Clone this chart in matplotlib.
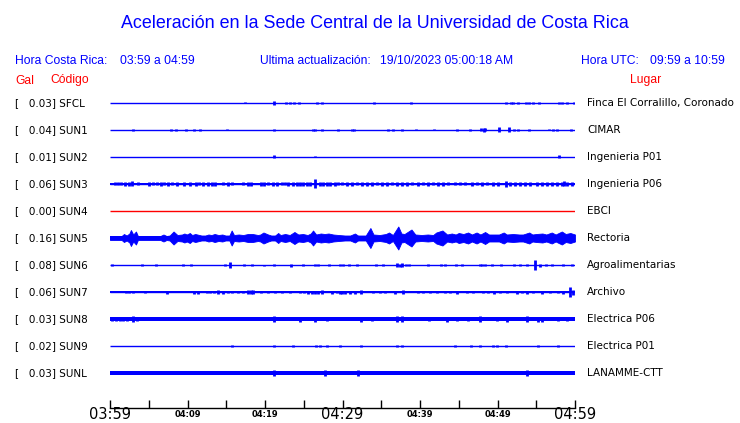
import numpy as np
import matplotlib.pyplot as plt
import matplotlib.transforms as mtransforms

# estaciones (de arriba hacia abajo)
codigos = ['SFCL', 'SUN1', 'SUN2', 'SUN3', 'SUN4', 'SUN5', 'SUN6', 'SUN7', 'SUN8', 'SUN9', 'SUNL']
gal = [0.03, 0.04, 0.01, 0.06, 0.00, 0.16, 0.08, 0.06, 0.03, 0.02, 0.03]
lugares = ['Finca El Corralillo, Coronado', 'CIMAR', 'Ingenieria P01', 'Ingenieria P06', 'EBCI',
           'Rectoria', 'Agroalimentarias', 'Archivo', 'Electrica P06', 'Electrica P01', 'LANAMME-CTT']
sin_datos = ['SUN4']

# ruido de fondo (media amplitud, en px de la imagen)
ruido = [0, 0, 0, 1.0, 0, 2.2, 0.2, 0.8, 1.6, 0, 2.1]

# picos: minutos desde 03:59 y media amplitud (px)
t_sfcl = [17.4, 21.2, 22.7, 23.2, 23.7, 24.4, 26.7, 27.4, 34.1, 38.8, 51.1, 51.7, 52.0, 52.6,
          53.7, 54.1, 54.6, 55.4, 57.9, 58.3, 59.0, 59.9]
a_sfcl = [0.5, 2.2, 1, 1.3, 1, 0.7, 1, 1.3, 1, 1, 1, 1, 1, 1, 1.2, 1, 1.2, 0.7, 1.2, 1, 1, 1.3]

t_sun1 = [2.97, 7.87, 8.52, 9.81, 10.84, 11.61, 15.1, 21.16, 26.19, 26.45, 27.35, 29.42, 31.23,
          31.48, 35.87, 36.52, 37.68, 39.48, 41.81, 44.77, 46.45, 47.87, 48.2, 48.39, 50.19,
          51.48, 52.13, 52.65, 54.06, 56.65, 57.16, 57.68, 59.48]
a_sun1 = [1, 1, 1, 1.3, 1, 0.8, 0.5, 1.3, 1, 1, 1, 0.6, 1, 0.8, 0.6, 1, 1, 0.5, 0.5, 0.8, 0.6,
          1.5, 1.8, 1.5, 2.5, 2.5, 1, 0.8, 1, 0.5, 1.2, 1.2, 1]

t_sun2 = [21.16, 26.45, 57.94]
a_sun2 = [1.5, 0.5, 1.5]

t_sun3 = [0.65, 1.08, 1.38, 1.94, 2.49, 2.88, 3.57, 5.08, 5.59, 6.11, 6.58, 7.01, 7.44, 7.96,
          8.6, 9.59, 10.32, 11.05, 11.44, 11.96, 12.69, 13.12, 13.55, 14.62, 15.27, 15.7,
          17.2, 17.85, 18.15, 19.48, 19.87, 20.43, 21.07, 21.51, 22.15, 22.58, 23.01, 23.57,
          24.09, 24.52, 24.94, 25.38, 25.81, 26.49, 27.1, 27.52, 27.96, 28.39, 29.03, 29.46,
          29.9, 30.54, 31.19, 31.83, 32.48, 33.12, 33.77, 34.41, 35.06, 35.7, 36.35, 36.99,
          37.64, 38.28, 38.93, 39.79, 40.43, 41.08, 41.72, 42.37, 43.01, 43.66, 44.52, 45.16,
          45.81, 46.67, 47.31, 47.96, 48.6, 49.46, 50.11, 51.06, 51.62, 52.26, 52.91, 53.55,
          54.2, 55.06, 55.7, 56.35, 56.99, 57.64, 58.28, 58.63, 58.93, 59.57]
a_sun3 = [1.5, 1.5, 1.5, 1.8, 1.8, 2.5, 1.5, 1.8, 1.5, 1.5, 1.8, 1.5, 1.8, 1.5,
          1.8, 2.2, 1.8, 1.8, 1.5, 1.8, 1.8, 1.8, 1.8, 1.5, 1.8, 1.5,
          1.5, 1.8, 1.8, 1.8, 1.8, 1.5, 1.8, 1.8, 1.5, 1.5, 1.8, 1.8,
          1.8, 1.8, 1.8, 1.8, 1.8, 4.5, 1.8, 1.8, 1.8, 1.8, 1.8, 1.5,
          1.5, 1.8, 1.8, 1.5, 1.8, 1.8, 1.8, 1.5, 1.8, 1.8, 1.5, 1.8,
          1.8, 1.8, 1.5, 1.8, 1.5, 1.8, 1.5, 1.8, 1.8, 1.5, 1.5, 1.5,
          1.5, 2.2, 1.5, 1.8, 1.5, 1.8, 1.8, 2.8, 1.8, 1.8, 1.8, 1.8,
          1.8, 1.8, 1.8, 1.8, 1.8, 1.8, 1.8, 2.5, 1.8, 1.8]

t_sun6 = [0.22, 4.09, 5.94, 9.38, 10.41, 14.84, 15.48, 17.29, 18.28, 19.91, 21.2, 23.31, 24.95,
          26.45, 26.88, 28.26, 29.68, 30.11, 30.88, 31.83, 34.28, 35.19, 37.08, 37.4, 37.64,
          38.15, 38.58, 41.08, 42.71, 43.23, 44.65, 45.38, 47.74, 48.05, 48.39, 49.25, 50.41,
          52.13, 52.91, 53.77, 54.84, 55.49, 56.22, 57.08, 58.5, 59.66]
a_sun6 = [1.3, 1.2, 1.3, 1.2, 1, 0.8, 2.8, 1.2, 1.2, 0.5, 0.8, 1.5, 1, 1.2, 1, 1, 1.2, 1,
          0.8, 1, 0.8, 1, 2, 1.5, 2, 1, 1, 1.3, 1, 0.8, 1, 0.8, 1.2, 1.2, 1.2, 1, 1, 1, 1.2,
          0.8, 5, 1.5, 1, 1, 1, 1]

t_sun7 = [2.02, 2.45, 2.92, 4.52, 7.31, 10.88, 11.4, 12.47, 12.9, 13.46, 13.89, 14.62, 15.27,
          15.78, 16.47, 17.2, 17.85, 18.2, 18.5, 19.48, 20.43, 21.29, 22.15, 23.23, 24.52,
          25.07, 25.59, 26.02, 26.45, 26.88, 27.31, 28.6, 29.25, 29.68, 29.98, 30.33, 30.97,
          31.62, 32.35, 33.98, 34.84, 35.49, 36.78, 37.85, 39.79, 40.43, 41.29, 42.15, 43.23,
          43.87, 44.73, 46.02, 46.88, 48.17, 48.82, 49.55, 50.32, 51.19, 52.48, 53.12, 53.85,
          54.63, 55.7, 56.78, 57.85, 58.5, 59.36, 59.79]
a_sun7 = [0.5, 0.5, 1.2, 1.2, 1.5, 1.5, 1.5, 0.8, 1, 1, 2.2, 1.5, 1,
          1.2, 1.2, 1.2, 2, 1.8, 2, 1, 0.8, 1.2, 0.8, 1, 1,
          1, 1.5, 1.5, 1.5, 1.5, 2, 1.5, 1.2, 1.5, 1.5, 1.5, 1.5,
          1.5, 2, 1, 1, 1.2, 1.5, 2, 1.2, 1, 1.2, 1, 1.2,
          1, 1.5, 1.2, 1.2, 1.2, 1.2, 1.5, 1, 1.2, 1.5, 1.2, 1.5,
          1, 1.5, 1.2, 1.2, 1.5, 5, 2.5]

t_sun8 = [0.22, 0.8, 1.29, 1.7, 2.15, 3.01, 3.44, 21.2, 24.52, 26.45, 27.96, 32.35, 33.77,
          36.99, 37.64, 41.2, 43.44, 44.73, 46.24, 47.74, 49.89, 51.19, 53.77, 55.27, 55.7,
          57.85, 58.93]
a_sun8 = [2, 2, 2, 2, 2, 2.8, 2.2, 2.8, 2.5, 2.5, 2.3, 2.5, 2.2, 2.8, 2.8, 2.2, 2.5, 2.2, 2.2,
          2.8, 2.2, 2.5, 2.8, 2.5, 2.5, 2.2, 2.2]

t_sun9 = [15.7, 21.2, 23.57, 26.58, 27.1, 28.04, 29.68, 32.35, 36.99, 37.64, 44.52, 46.58,
          47.74, 49.46, 49.89, 51.06, 55.27, 57.85]
a_sun9 = [1, 1.3, 0.6, 1.3, 1, 1, 1.2, 1, 1.3, 0.8, 1, 1, 1.3, 0.8, 0.8, 1, 1, 1]

t_sunl = [21.2, 27.74, 32.05, 53.77]
a_sunl = [3, 3, 3, 3.3]

# Rectoria: envolvente (minutos, media amplitud px)
t_sun5 = [0, 1.5, 1.8, 2.15, 2.5, 2.7, 3.0, 3.35, 3.6, 5.6, 5.8, 6.5, 6.9, 7.3, 7.7, 8.2, 8.7,
          9.3, 9.6, 9.9, 10.3, 10.6, 11.0, 11.8, 12.3, 12.7, 13.1, 13.5, 14.0, 14.5, 14.9,
          15.4, 15.7, 16.0, 16.6, 17.2, 17.8, 18.4, 19.1, 19.4, 19.8, 20.4, 20.8, 21.3, 21.7,
          22.0, 22.6, 23.2, 23.8, 24.3, 24.9, 25.5, 25.9, 26.2, 26.6, 27.2, 27.7, 28.2, 28.8,
          29.5, 30.3, 31.0, 31.6, 32.0, 33.0, 33.6, 34.0, 34.8, 35.6, 36.0, 36.5, 37.2, 37.6,
          38.0, 38.9, 39.4, 40.2, 41.0, 41.7, 42.1, 42.9, 43.5, 44.1, 44.6, 45.0, 45.6, 46.2,
          46.7, 47.3, 47.8, 48.4, 48.9, 49.6, 50.2, 50.8, 51.2, 52.0, 52.8, 53.3, 54.1, 54.5,
          55.0, 55.8, 56.3, 57.0, 57.5, 58.3, 58.8, 59.4, 60]
a_sun5 = [2, 2, 4, 2.5, 4.5, 8, 3.5, 6.5, 2, 2, 2, 2, 3.5, 2, 2.5, 6.5, 3,
          3.5, 4.5, 3.5, 5, 3, 4, 2.5, 2.5, 3.5, 3, 4, 3, 3.5, 2.5,
          2.5, 7.5, 3, 3.5, 3, 4, 4, 3, 3.5, 5.5, 3.5, 2.5, 2.5, 5,
          3, 4, 3, 6, 3.5, 4, 3, 4.5, 7.5, 3.5, 4.5, 4, 4.5, 3.5,
          3, 2.5, 2.5, 4.5, 2.5, 2.5, 10, 3.5, 3, 4, 5.5, 3, 11.5, 4.5,
          4, 8.5, 3.5, 3, 3.5, 3, 5.5, 7.5, 3.5, 4.5, 3.5, 5, 4, 5.5,
          3.5, 5.5, 3.5, 6, 3.5, 3.5, 3.5, 5.5, 3.5, 4, 3.5, 3.5, 5.5, 3.5,
          4, 4.5, 3.5, 5.5, 3.5, 6.5, 4, 5, 3.5]

picos = {'SFCL': (t_sfcl, a_sfcl), 'SUN1': (t_sun1, a_sun1), 'SUN2': (t_sun2, a_sun2),
         'SUN3': (t_sun3, a_sun3), 'SUN6': (t_sun6, a_sun6), 'SUN7': (t_sun7, a_sun7),
         'SUN8': (t_sun8, a_sun8), 'SUN9': (t_sun9, a_sun9), 'SUNL': (t_sunl, a_sunl)}

horas = ['03:59', '04:09', '04:19', '04:29', '04:39', '04:49', '04:59']
min_horas = [0, 10, 20, 30, 40, 50, 60]

azul = '#0000ff'
rojo = '#ff0000'
esc = 1 / 27  # px -> separacion entre trazas

W, H = 740, 423
fig = plt.figure(figsize=(W / 100, H / 100), dpi=100)
ax = fig.add_axes([110 / W, (H - 408) / H, 465 / W, (408 - 88) / H])
ax.set_xlim(0, 60)
ax.set_ylim((408 - 103) / 27, (88 - 103) / 27)

for i, cod in enumerate(codigos):
    col = rojo if cod in sin_datos else azul
    ax.plot([0, 60], [i, i], color=col, lw=1.0, solid_capstyle='butt')
    if ruido[i] > 0:
        ax.fill_between([0, 60], i - ruido[i] * esc, i + ruido[i] * esc, color=col, lw=0)
    if cod in picos:
        t, a = picos[cod]
        a = np.array(a) * esc
        ax.vlines(t, i - a, i + a, color=col, lw=2.0)
    if cod == 'SUN5':
        a = np.array(a_sun5) * esc
        ax.fill_between(t_sun5, i - a, i + a, color=col, lw=0.6, edgecolor=col)

# textos de cada estacion
tr = mtransforms.blended_transform_factory(fig.transFigure, ax.transData)
for i, cod in enumerate(codigos):
    ax.text(15 / W, i, '[   %.2f] %s' % (gal[i], cod), transform=tr, fontsize=7.5,
            va='center', ha='left', color='black', clip_on=False)
    ax.text(587 / W, i, lugares[i], transform=tr, fontsize=7.5,
            va='center', ha='left', color='black', clip_on=False)

# eje del tiempo
for s in ['left', 'right', 'top']:
    ax.spines[s].set_visible(False)
ax.spines['bottom'].set_linewidth(1.0)
ax.set_yticks([])
ax.set_xticks(np.arange(0, 61, 5))
ax.set_xticklabels([''] * 13)
ax.tick_params(axis='x', direction='in', length=6, width=1.0, pad=1)
trx = mtransforms.blended_transform_factory(ax.transData, fig.transFigure)
for m, h in zip(min_horas, horas):
    grande = m in (0, 30, 60)
    ax.text(m, 1 - 414.5 / H, h, transform=trx,
            ha='center', va='center', fontsize=10.5 if grande else 6,
            fontweight='normal' if grande else 'bold', clip_on=False)

# encabezado
sans = ['Liberation Sans', 'DejaVu Sans']
fig.text(375 / W, 1 - 23 / H, 'Aceleración en la Sede Central de la Universidad de Costa Rica',
         ha='center', va='center', fontsize=12.9, color=azul, family=sans)
hdr_y = 1 - 61 / H
fig.text(15 / W, hdr_y, 'Hora Costa Rica:', fontsize=8.7, color=azul, va='center', family=sans)
fig.text(120 / W, hdr_y, '03:59 a 04:59', fontsize=8.7, color=azul, va='center', family=sans)
fig.text(260 / W, hdr_y, 'Ultima actualización:', fontsize=8.7, color=azul, va='center', family=sans)
fig.text(380 / W, hdr_y, '19/10/2023 05:00:18 AM', fontsize=8.7, color=azul, va='center', family=sans)
fig.text(581 / W, hdr_y, 'Hora UTC:', fontsize=8.7, color=azul, va='center', family=sans)
fig.text(650 / W, hdr_y, '09:59 a 10:59', fontsize=8.7, color=azul, va='center', family=sans)
sub_y = 1 - 80.5 / H
fig.text(15 / W, sub_y, 'Gal', fontsize=8.7, color=rojo, va='center', family=sans)
fig.text(50 / W, sub_y, 'Código', fontsize=8.7, color=rojo, va='center', family=sans)
fig.text(630 / W, sub_y, 'Lugar', fontsize=8.7, color=rojo, va='center', family=sans)

fig.savefig('out.png', dpi=100)
